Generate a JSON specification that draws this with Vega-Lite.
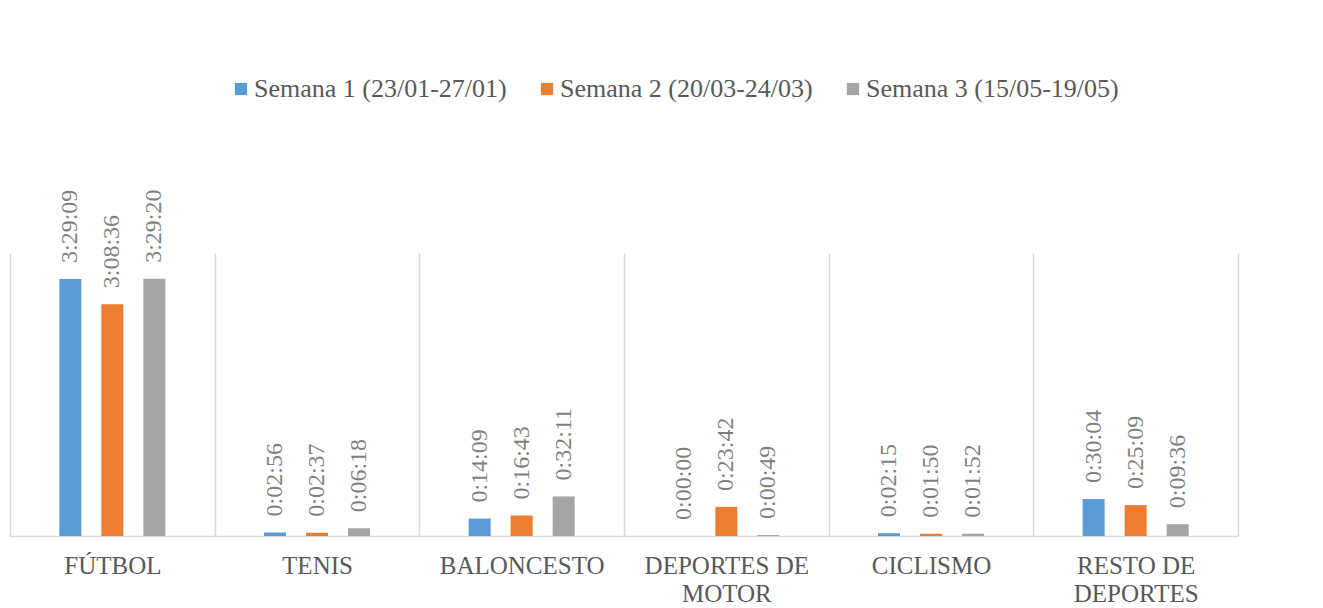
{
  "$schema": "https://vega.github.io/schema/vega-lite/v6.json",
  "autosize": {"type": "none"},
  "width": 1228,
  "height": 283,
  "padding": {"left": 10, "top": 253, "right": 85, "bottom": 72},
  "background": "white",
  "config": {"view": {"stroke": null}, "font": "Liberation Serif"},
  "data": {
    "values": [
      {"deporte": "FÚTBOL", "semana": "Semana 1 (23/01-27/01)", "segundos": 12549, "tiempo": "3:29:09"},
      {"deporte": "FÚTBOL", "semana": "Semana 2 (20/03-24/03)", "segundos": 11316, "tiempo": "3:08:36"},
      {"deporte": "FÚTBOL", "semana": "Semana 3 (15/05-19/05)", "segundos": 12560, "tiempo": "3:29:20"},
      {"deporte": "TENIS", "semana": "Semana 1 (23/01-27/01)", "segundos": 176, "tiempo": "0:02:56"},
      {"deporte": "TENIS", "semana": "Semana 2 (20/03-24/03)", "segundos": 157, "tiempo": "0:02:37"},
      {"deporte": "TENIS", "semana": "Semana 3 (15/05-19/05)", "segundos": 378, "tiempo": "0:06:18"},
      {"deporte": "BALONCESTO", "semana": "Semana 1 (23/01-27/01)", "segundos": 849, "tiempo": "0:14:09"},
      {"deporte": "BALONCESTO", "semana": "Semana 2 (20/03-24/03)", "segundos": 1003, "tiempo": "0:16:43"},
      {"deporte": "BALONCESTO", "semana": "Semana 3 (15/05-19/05)", "segundos": 1931, "tiempo": "0:32:11"},
      {"deporte": "DEPORTES DE MOTOR", "semana": "Semana 1 (23/01-27/01)", "segundos": 0, "tiempo": "0:00:00"},
      {"deporte": "DEPORTES DE MOTOR", "semana": "Semana 2 (20/03-24/03)", "segundos": 1422, "tiempo": "0:23:42"},
      {"deporte": "DEPORTES DE MOTOR", "semana": "Semana 3 (15/05-19/05)", "segundos": 49, "tiempo": "0:00:49"},
      {"deporte": "CICLISMO", "semana": "Semana 1 (23/01-27/01)", "segundos": 135, "tiempo": "0:02:15"},
      {"deporte": "CICLISMO", "semana": "Semana 2 (20/03-24/03)", "segundos": 110, "tiempo": "0:01:50"},
      {"deporte": "CICLISMO", "semana": "Semana 3 (15/05-19/05)", "segundos": 112, "tiempo": "0:01:52"},
      {"deporte": "RESTO DE DEPORTES", "semana": "Semana 1 (23/01-27/01)", "segundos": 1804, "tiempo": "0:30:04"},
      {"deporte": "RESTO DE DEPORTES", "semana": "Semana 2 (20/03-24/03)", "segundos": 1509, "tiempo": "0:25:09"},
      {"deporte": "RESTO DE DEPORTES", "semana": "Semana 3 (15/05-19/05)", "segundos": 576, "tiempo": "0:09:36"}
    ]
  },
  "resolve": {"scale": {"x": "independent"}, "axis": {"x": "independent"}},
  "layer": [
    {
      "mark": {"type": "rule", "opacity": 0},
      "encoding": {
        "x": {
          "field": "deporte",
          "type": "nominal",
          "sort": ["FÚTBOL", "TENIS", "BALONCESTO", "DEPORTES DE MOTOR", "CICLISMO", "RESTO DE DEPORTES"],
          "scale": {"paddingInner": 0, "paddingOuter": 0},
          "axis": {
            "title": null,
            "labelAngle": 0,
            "labelBaseline": "top",
            "labelPadding": 17,
            "labelLineHeight": 28,
            "labelFontSize": 25,
            "labelFont": "Liberation Serif",
            "labelColor": "#595959",
            "labelLimit": 400,
            "labelOverlap": false,
            "labelExpr": "datum.value == 'DEPORTES DE MOTOR' ? ['DEPORTES DE', 'MOTOR'] : datum.value == 'RESTO DE DEPORTES' ? ['RESTO DE', 'DEPORTES'] : datum.label",
            "ticks": false,
            "grid": true,
            "gridColor": "#d9d9d9",
            "gridWidth": 1.5,
            "tickBand": "extent",
            "domainColor": "#d9d9d9",
            "domainWidth": 1.5
          }
        }
      }
    },
    {
      "encoding": {
        "x": {
          "field": "deporte",
          "type": "nominal",
          "sort": ["FÚTBOL", "TENIS", "BALONCESTO", "DEPORTES DE MOTOR", "CICLISMO", "RESTO DE DEPORTES"],
          "scale": {"paddingInner": 0.482, "paddingOuter": 0.241},
          "axis": null
        },
        "xOffset": {
          "field": "semana",
          "type": "nominal",
          "sort": ["Semana 1 (23/01-27/01)", "Semana 2 (20/03-24/03)", "Semana 3 (15/05-19/05)"],
          "scale": {"paddingInner": 0.476, "paddingOuter": 0}
        },
        "y": {
          "field": "segundos",
          "type": "quantitative",
          "scale": {"domain": [0, 13820], "nice": false, "zero": true},
          "axis": null
        }
      },
      "layer": [
        {
          "mark": {"type": "bar"},
          "encoding": {
            "color": {
              "field": "semana",
              "type": "nominal",
              "scale": {
                "domain": ["Semana 1 (23/01-27/01)", "Semana 2 (20/03-24/03)", "Semana 3 (15/05-19/05)"],
                "range": ["#5b9bd5", "#ed7d31", "#a5a5a5"]
              },
              "legend": {
                "title": null,
                "orient": "none",
                "legendX": 218,
                "legendY": -177,
                "direction": "horizontal",
                "columns": 3,
                "symbolType": "square",
                "symbolSize": 150,
                "symbolStrokeWidth": 0,
                "labelFontSize": 26,
                "labelFont": "Liberation Serif",
                "labelColor": "#595959",
                "labelOffset": 0,
                "labelLimit": 400,
                "columnPadding": 27
              }
            }
          }
        },
        {
          "mark": {
            "type": "text",
            "angle": 270,
            "align": "left",
            "baseline": "middle",
            "dx": 16,
            "fontSize": 24,
            "font": "Liberation Serif",
            "color": "#7f7f7f"
          },
          "encoding": {"text": {"field": "tiempo"}}
        }
      ]
    }
  ]
}
